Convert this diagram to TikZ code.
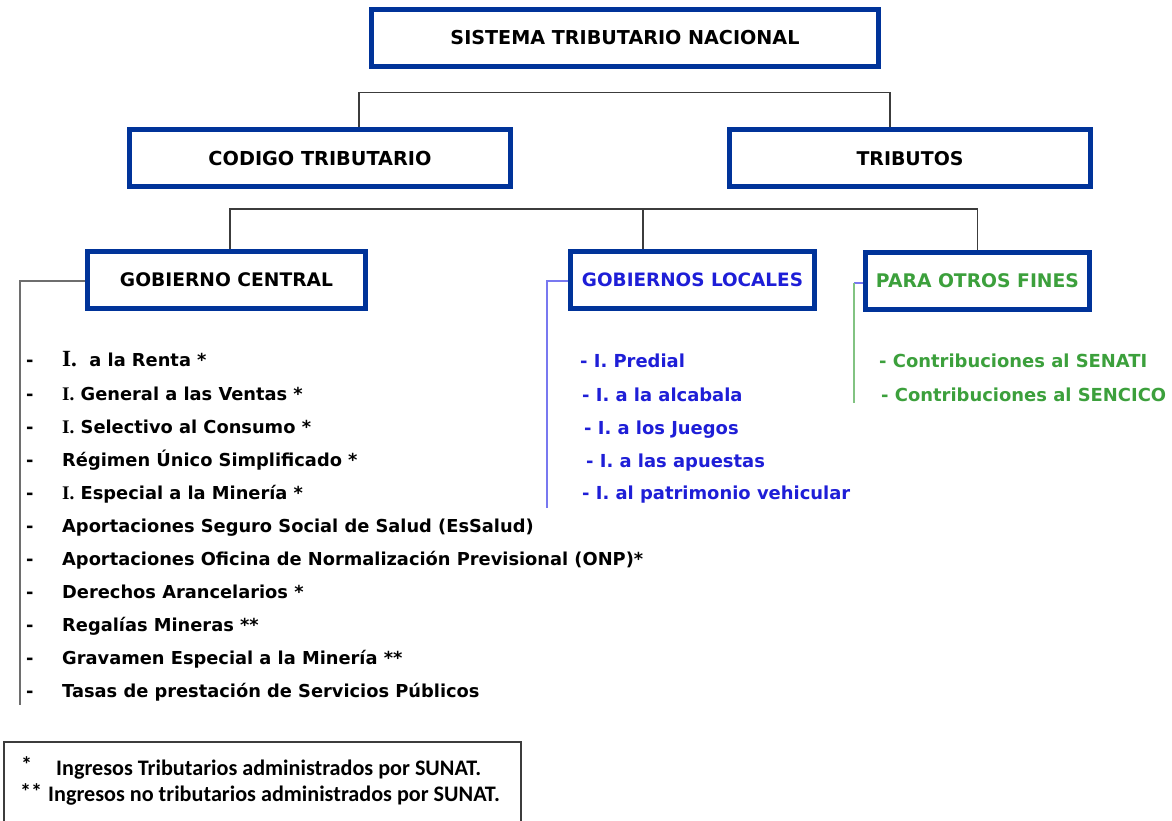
\documentclass[tikz,border=0pt]{standalone}
\usepackage{fontspec}
\usepackage{graphicx}
\setmainfont{DejaVu Sans}
\newfontfamily\dvs{DejaVu Sans}
\newfontfamily\carl{Carlito}
\newfontfamily\lser{Liberation Serif}
\definecolor{boxblue}{RGB}{0,51,153}
\definecolor{conngray}{RGB}{60,60,60}
\definecolor{txtblue}{RGB}{30,30,215}
\definecolor{lineblue}{RGB}{120,120,240}
\definecolor{txtgreen}{RGB}{60,160,60}
\definecolor{linegreen}{RGB}{130,195,130}
\newlength\mw
\newcommand\setsz[3]{\settowidth\mw{\fontsize{10pt}{12pt}\selectfont #3}\pgfmathsetmacro#1{10*#2/\mw}}
\newcommand\hdf{\dvs\bfseries}
\newcommand\Ise{{\lser\fontsize{\szI pt}{\szI pt}\selectfont\bfseries I.}}
\newcommand\Ibig{{\lser\fontsize{\szJ pt}{\szJ pt}\selectfont\bfseries I.}}
\AtBeginDocument{%
\setsz{\szA}{581}{\dvs\bfseries Aportaciones Oficina de Normalización Previsional (ONP)*}%
\setsz{\szB}{268}{\dvs\bfseries - I. al patrimonio vehicular}%
\setsz{\szC}{285}{\dvs\bfseries - Contribuciones al SENCICO}%
\setsz{\szD}{425}{\carl\bfseries Ingresos Tributarios administrados por SUNAT.}%
\pgfmathsetmacro\szI{\szA*1.08}%
\pgfmathsetmacro\szJ{\szA*1.3}}
\tikzset{
  hbox/.style={draw=boxblue, line width=5pt, fill=white, inner sep=0pt, minimum height=57pt},
  conn/.style={draw=conngray, line width=1.3pt},
  blk/.style={anchor=mid west, inner sep=0pt, font=\fontsize{\szA pt}{\szA pt}\dvs\bfseries, text=black},
  dsh/.style={anchor=mid west, inner sep=0pt, font=\fontsize{\szA pt}{\szA pt}\dvs\bfseries, text=black},
  blu/.style={anchor=mid west, inner sep=0pt, font=\fontsize{\szB pt}{\szB pt}\dvs\bfseries, text=txtblue},
  grn/.style={anchor=mid west, inner sep=0pt, font=\fontsize{\szC pt}{\szC pt}\dvs\bfseries, text=txtgreen},
  leg/.style={anchor=mid west, inner sep=0pt, font=\fontsize{\szD pt}{\szD pt}\carl\bfseries, text=black},
}
\begin{document}
\begin{tikzpicture}[x=1pt,y=-1pt]
\useasboundingbox (0,0) rectangle (1172,821);
\fill[white] (0,0) rectangle (1172,821);
\begin{scope}
\clip (0,0) rectangle (1172,821);

% boxes
\node[hbox, minimum width=507pt] (stn) at (625,38) {\resizebox{349pt}{!}{\hdf SISTEMA TRIBUTARIO NACIONAL}};
\node[hbox, minimum width=381pt] (cod) at (320,158.5) {\resizebox{223pt}{!}{\hdf CODIGO TRIBUTARIO}};
\node[hbox, minimum width=361pt] (tri) at (910,158.5) {\resizebox{107pt}{!}{\hdf TRIBUTOS}};
\node[hbox, minimum width=278pt] (gc) at (226.5,280) {\resizebox{213pt}{!}{\hdf GOBIERNO CENTRAL}};
\node[hbox, minimum width=244pt, text=txtblue] (gl) at (692.5,280) {\resizebox{221pt}{!}{\hdf GOBIERNOS LOCALES}};
\node[hbox, minimum width=224pt, text=txtgreen] (po) at (977.5,281) {\resizebox{203pt}{!}{\hdf PARA OTROS FINES}};

% connectors
\draw[conn] ([xshift=39pt]cod.north) -- ++(0,-35) -| ([xshift=-20pt]tri.north);
\draw[conn] ([xshift=3.5pt]gc.north) -- ++(0,-40) -| (po.north);
\draw[conn] ([xshift=-49.5pt]gl.north) -- ++(0,-40);
\coordinate (gcend) at (20,705);
\draw[draw={rgb,255:red,110;green,110;blue,110}, line width=2pt] ([yshift=-1pt]gc.west) -| (gcend);
\coordinate (glend) at (547,508);
\draw[draw=lineblue, line width=1.6pt] ([yshift=-1pt]gl.west) -| (glend);
\draw[draw=lineblue, line width=1.6pt] ([yshift=-2pt]po.west) -- ++(-9,0) coordinate (pc);
\coordinate (poend) at (854,403);
\draw[draw=linegreen, line width=1.6pt] (pc) -- (poend);

% gobierno central items
\foreach \y [count=\i] in {364,398,431,464,497,530,563,596,629,662,695}
  \node[dsh] (d\i) at (26,\y) {-};
\node[blk] (c1) at (62,364) {\Ibig\ \ a la Renta *};
\node[blk] (c2) at (62,398) {\Ise\ General a las Ventas *};
\node[blk] (c3) at (62,431) {\Ise\ Selectivo al Consumo *};
\node[blk] (c4) at (62,464) {Régimen Único Simplificado *};
\node[blk] (c5) at (62,497) {\Ise\ Especial a la Minería *};
\node[blk] (c6) at (62,530) {Aportaciones Seguro Social de Salud (EsSalud)};
\node[blk] (c7) at (62,563) {Aportaciones Oficina de Normalización Previsional (ONP)*};
\node[blk] (c8) at (62,596) {Derechos Arancelarios *};
\node[blk] (c9) at (62,629) {Regalías Mineras **};
\node[blk] (c10) at (62,662) {Gravamen Especial a la Minería **};
\node[blk] (c11) at (62,695) {Tasas de prestación de Servicios Públicos};

% gobiernos locales items
\node[blu] (l1) at (580,365) {- I. Predial};
\node[blu] (l2) at (582,399) {- I. a la alcabala};
\node[blu] (l3) at (584,432) {- I. a los Juegos};
\node[blu] (l4) at (586,465) {- I. a las apuestas};
\node[blu] (l5) at (582,497) {- I. al patrimonio vehicular};

% otros fines items
\node[grn] (o1) at (879,365) {- Contribuciones al SENATI};
\node[grn] (o2) at (881,399) {- Contribuciones al SENCICO};

% legend
\draw[draw=conngray, line width=1.3pt] (4,830) |- (521,742) -- (521,830);
\node[leg] (s1) at (21,770) {*};
\node[leg] (t1) at (56,773) {Ingresos Tributarios administrados por SUNAT.};
\node[leg] (s2) at (20,797) {**};
\node[leg] (t2) at (48,799) {Ingresos no tributarios administrados por SUNAT.};
\end{scope}
\end{tikzpicture}
\end{document}
